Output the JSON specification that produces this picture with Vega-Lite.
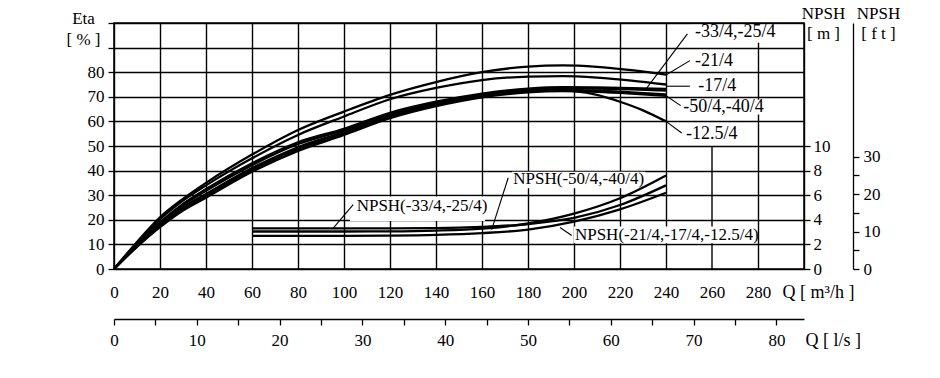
{
  "$schema": "https://vega.github.io/schema/vega-lite/v6.json",
  "width": 690,
  "height": 246,
  "autosize": "none",
  "padding": {"left": 114, "top": 23, "right": 136, "bottom": 109},
  "background": "white",
  "config": {
    "view": {"stroke": "black", "strokeWidth": 1.5},
    "font": "Liberation Serif",
    "text": {"font": "Liberation Serif"},
    "axis": {
      "labelFont": "Liberation Serif", "labelFontSize": 17, "labelColor": "black",
      "titleFont": "Liberation Serif", "titleFontSize": 17, "titleFontWeight": "normal", "titleColor": "black",
      "tickColor": "black", "domainColor": "black", "gridColor": "black", "gridOpacity": 1,
      "gridWidth": 1.4, "tickWidth": 1.3, "domainWidth": 1.3, "labelOverlap": false, "labelFlush": false
    }
  },
  "datasets": {
    "eta": [
      {"c":"-21/4","Q":0,"e":0},{"c":"-21/4","Q":10,"e":11},{"c":"-21/4","Q":20,"e":21},{"c":"-21/4","Q":30,"e":28.5},{"c":"-21/4","Q":40,"e":35},{"c":"-21/4","Q":60,"e":46.5},{"c":"-21/4","Q":80,"e":56.5},{"c":"-21/4","Q":100,"e":64},{"c":"-21/4","Q":120,"e":70.8},{"c":"-21/4","Q":140,"e":76},{"c":"-21/4","Q":160,"e":80},{"c":"-21/4","Q":180,"e":82.3},{"c":"-21/4","Q":195,"e":82.8},{"c":"-21/4","Q":210,"e":82.2},{"c":"-21/4","Q":225,"e":80.8},{"c":"-21/4","Q":240,"e":79},
      {"c":"-17/4","Q":0,"e":0},{"c":"-17/4","Q":10,"e":10.6},{"c":"-17/4","Q":20,"e":20.2},{"c":"-17/4","Q":30,"e":27.8},{"c":"-17/4","Q":40,"e":34},{"c":"-17/4","Q":60,"e":45},{"c":"-17/4","Q":80,"e":54.5},{"c":"-17/4","Q":100,"e":62},{"c":"-17/4","Q":120,"e":69},{"c":"-17/4","Q":140,"e":73.6},{"c":"-17/4","Q":160,"e":76.8},{"c":"-17/4","Q":180,"e":78.2},{"c":"-17/4","Q":195,"e":78.4},{"c":"-17/4","Q":210,"e":77.8},{"c":"-17/4","Q":225,"e":76.6},{"c":"-17/4","Q":240,"e":75},
      {"c":"-33/4","Q":0,"e":0},{"c":"-33/4","Q":10,"e":10},{"c":"-33/4","Q":20,"e":19},{"c":"-33/4","Q":30,"e":26.5},{"c":"-33/4","Q":40,"e":32.5},{"c":"-33/4","Q":60,"e":43},{"c":"-33/4","Q":80,"e":51.5},{"c":"-33/4","Q":100,"e":57},{"c":"-33/4","Q":120,"e":63.5},{"c":"-33/4","Q":140,"e":68},{"c":"-33/4","Q":160,"e":71.3},{"c":"-33/4","Q":180,"e":73.3},{"c":"-33/4","Q":195,"e":73.9},{"c":"-33/4","Q":210,"e":73.8},{"c":"-33/4","Q":225,"e":73.5},{"c":"-33/4","Q":240,"e":73.2},
      {"c":"-25/4","Q":0,"e":0},{"c":"-25/4","Q":10,"e":9.8},{"c":"-25/4","Q":20,"e":18.6},{"c":"-25/4","Q":30,"e":26},{"c":"-25/4","Q":40,"e":31.8},{"c":"-25/4","Q":60,"e":42.2},{"c":"-25/4","Q":80,"e":50.8},{"c":"-25/4","Q":100,"e":56.4},{"c":"-25/4","Q":120,"e":63},{"c":"-25/4","Q":140,"e":67.5},{"c":"-25/4","Q":160,"e":70.9},{"c":"-25/4","Q":180,"e":72.9},{"c":"-25/4","Q":195,"e":73.4},{"c":"-25/4","Q":210,"e":73.3},{"c":"-25/4","Q":225,"e":73},{"c":"-25/4","Q":240,"e":72.5},
      {"c":"-50/4","Q":0,"e":0},{"c":"-50/4","Q":10,"e":9},{"c":"-50/4","Q":20,"e":17},{"c":"-50/4","Q":30,"e":23.8},{"c":"-50/4","Q":40,"e":29},{"c":"-50/4","Q":60,"e":39.5},{"c":"-50/4","Q":80,"e":48},{"c":"-50/4","Q":100,"e":54.5},{"c":"-50/4","Q":120,"e":61.3},{"c":"-50/4","Q":140,"e":66.2},{"c":"-50/4","Q":160,"e":69.8},{"c":"-50/4","Q":180,"e":71.8},{"c":"-50/4","Q":195,"e":72.3},{"c":"-50/4","Q":210,"e":72},{"c":"-50/4","Q":225,"e":71.3},{"c":"-50/4","Q":240,"e":70.4},
      {"c":"-40/4","Q":0,"e":0},{"c":"-40/4","Q":10,"e":9.2},{"c":"-40/4","Q":20,"e":17.4},{"c":"-40/4","Q":30,"e":24.4},{"c":"-40/4","Q":40,"e":29.7},{"c":"-40/4","Q":60,"e":40.3},{"c":"-40/4","Q":80,"e":48.8},{"c":"-40/4","Q":100,"e":55},{"c":"-40/4","Q":120,"e":61.8},{"c":"-40/4","Q":140,"e":66.7},{"c":"-40/4","Q":160,"e":70.3},{"c":"-40/4","Q":180,"e":72.3},{"c":"-40/4","Q":195,"e":72.8},{"c":"-40/4","Q":210,"e":72.5},{"c":"-40/4","Q":225,"e":71.8},{"c":"-40/4","Q":240,"e":71},
      {"c":"-12.5/4","Q":0,"e":0},{"c":"-12.5/4","Q":10,"e":9.5},{"c":"-12.5/4","Q":20,"e":18},{"c":"-12.5/4","Q":30,"e":25.2},{"c":"-12.5/4","Q":40,"e":30.5},{"c":"-12.5/4","Q":60,"e":41},{"c":"-12.5/4","Q":80,"e":49.5},{"c":"-12.5/4","Q":100,"e":55.7},{"c":"-12.5/4","Q":120,"e":62.5},{"c":"-12.5/4","Q":140,"e":67.2},{"c":"-12.5/4","Q":160,"e":70.6},{"c":"-12.5/4","Q":180,"e":72.5},{"c":"-12.5/4","Q":190,"e":72.8},{"c":"-12.5/4","Q":200,"e":72.3},{"c":"-12.5/4","Q":210,"e":70.8},{"c":"-12.5/4","Q":220,"e":68},{"c":"-12.5/4","Q":230,"e":64.5},{"c":"-12.5/4","Q":240,"e":60}
    ],
    "npsh": [
      {"c":"N1","Q":60,"m":3.05},{"c":"N1","Q":80,"m":3.05},{"c":"N1","Q":100,"m":3.05},{"c":"N1","Q":120,"m":3.06},{"c":"N1","Q":140,"m":3.12},{"c":"N1","Q":160,"m":3.28},{"c":"N1","Q":180,"m":3.7},{"c":"N1","Q":200,"m":4.5},{"c":"N1","Q":220,"m":5.75},{"c":"N1","Q":240,"m":7.6},
      {"c":"N2","Q":60,"m":3.3},{"c":"N2","Q":80,"m":3.3},{"c":"N2","Q":100,"m":3.3},{"c":"N2","Q":120,"m":3.3},{"c":"N2","Q":140,"m":3.32},{"c":"N2","Q":160,"m":3.42},{"c":"N2","Q":180,"m":3.65},{"c":"N2","Q":200,"m":4.15},{"c":"N2","Q":220,"m":5.2},{"c":"N2","Q":240,"m":6.8},
      {"c":"N3","Q":60,"m":2.7},{"c":"N3","Q":80,"m":2.7},{"c":"N3","Q":100,"m":2.7},{"c":"N3","Q":120,"m":2.72},{"c":"N3","Q":140,"m":2.78},{"c":"N3","Q":160,"m":2.92},{"c":"N3","Q":180,"m":3.2},{"c":"N3","Q":200,"m":3.85},{"c":"N3","Q":220,"m":4.85},{"c":"N3","Q":240,"m":6.2}
    ],
    "boxes": [
      {"q1":250.5,"q2":298.5,"e1":92,"e2":99.3},
      {"q1":251,"q2":272,"e1":82.3,"e2":87.3},
      {"q1":252.5,"q2":272,"e1":71.7,"e2":76.8},
      {"q1":246.8,"q2":292,"e1":62.8,"e2":68.8},
      {"q1":247.8,"q2":272.5,"e1":52,"e2":57.8},
      {"q1":102.6,"q2":161.3,"e1":19.5,"e2":29.5},
      {"q1":173,"q2":231,"e1":32.8,"e2":39.5},
      {"q1":200,"q2":279,"e1":10.5,"e2":17.3}
    ],
    "leaders": [
      {"q1":249.3,"e1":95.6,"q2":231.6,"e2":73.5},
      {"q1":250.4,"e1":84.7,"q2":240,"e2":78.9},
      {"q1":240,"e1":74.3,"q2":250.4,"e2":74.3},
      {"q1":240,"e1":70.4,"q2":246.4,"e2":66.4},
      {"q1":240,"e1":60,"q2":246.8,"e2":55.3},
      {"q1":104,"e1":26.2,"q2":95.4,"e2":16.7},
      {"q1":171.4,"e1":37.1,"q2":164.2,"e2":16},
      {"q1":193.9,"e1":16.9,"q2":199,"e2":13.6}
    ],
    "labels": [
      {"t":"-33/4,-25/4","Q":252.6,"e":96.4,"s":18},
      {"t":"-21/4","Q":252.6,"e":84.7,"s":18},
      {"t":"-17/4","Q":254,"e":74.3,"s":18},
      {"t":"-50/4,-40/4","Q":247.5,"e":65.7,"s":18},
      {"t":"-12.5/4","Q":248.7,"e":54.8,"s":18},
      {"t":"NPSH(-33/4,-25/4)","Q":105.5,"e":25.6,"s":17},
      {"t":"NPSH(-50/4,-40/4)","Q":173.6,"e":36.4,"s":17},
      {"t":"NPSH(-21/4,-17/4,-12.5/4)","Q":200.4,"e":14,"s":17}
    ],
    "grid260": [{"Q":260,"lo":0,"hi":50}]
  },
  "layer": [
    {
      "data": {"name": "grid260"},
      "mark": {"type": "rule", "color": "black", "strokeWidth": 1.4},
      "encoding": {
        "x": {"field": "Q", "type": "quantitative", "scale": {"domain": [0, 300], "nice": false}, "axis": null},
        "y": {"field": "lo", "type": "quantitative", "scale": {"domain": [0, 100], "nice": false}, "axis": null},
        "y2": {"field": "hi"}
      }
    },
    {
      "data": {"name": "boxes"},
      "mark": {"type": "rect", "fill": "white", "strokeWidth": 0},
      "encoding": {
        "x": {"field": "q1", "type": "quantitative", "scale": {"domain": [0, 300], "nice": false},
              "axis": {"orient": "bottom", "values": [0,20,40,60,80,100,120,140,160,180,200,220,240,280,300], "grid": true, "labels": false, "ticks": false, "domain": false, "title": null}},
        "x2": {"field": "q2"},
        "y": {"field": "e1", "type": "quantitative", "scale": {"domain": [0, 100], "nice": false}, "axis": null},
        "y2": {"field": "e2"}
      }
    },
    {
      "data": {"name": "eta"},
      "mark": {"type": "line", "color": "black", "strokeWidth": 2.3, "interpolate": "monotone"},
      "encoding": {
        "x": {"field": "Q", "type": "quantitative", "scale": {"domain": [0, 300], "nice": false},
              "axis": {"orient": "bottom", "values": [0,20,40,60,80,100,120,140,160,180,200,220,240,260,280], "grid": false, "ticks": false, "tickSize": 0, "domain": false, "labelBaseline": "middle", "labelPadding": 23,
                       "labelFont": "Liberation Serif", "labelFontSize": 17, "titleFont": "Liberation Serif", "titleFontSize": 18,
                       "title": "Q [ m³/h ]", "titleX": 668, "titleY": 23, "titleAlign": "left", "titleBaseline": "middle", "titleAngle": 0}},
        "y": {"field": "e", "type": "quantitative", "scale": {"domain": [0, 100], "nice": false},
              "axis": {"orient": "left", "values": [0,10,20,30,40,50,60,70,80,90,100], "grid": true, "tickSize": 6, "domain": false, "labelPadding": 4,
                       "labelFont": "Liberation Serif", "labelFontSize": 17, "titleFont": "Liberation Serif", "titleFontSize": 17,
                       "labelExpr": "datum.value <= 80 ? datum.label : ''",
                       "title": ["Eta", "[ % ]"], "titleAngle": 0, "titleX": -31, "titleY": -5, "titleAlign": "center", "titleBaseline": "middle", "titleLineHeight": 21}},
        "detail": {"field": "c"}
      }
    },
    {
      "data": {"name": "npsh"},
      "mark": {"type": "line", "color": "black", "strokeWidth": 2.3, "interpolate": "monotone"},
      "encoding": {
        "x": {"field": "Q", "type": "quantitative", "scale": {"domain": [0, 300], "nice": false}, "axis": null},
        "y": {"field": "m", "type": "quantitative", "scale": {"domain": [0, 20], "nice": false},
              "axis": {"orient": "right", "values": [0,2,4,6,8,10], "grid": false, "tickSize": 6, "domain": false, "labelPadding": 3,
                       "labelFont": "Liberation Serif", "labelFontSize": 17, "titleFont": "Liberation Serif", "titleFontSize": 17,
                       "title": ["NPSH", "[ m ]"], "titleAngle": 0, "titleX": 19, "titleY": -9.7, "titleAlign": "center", "titleBaseline": "middle", "titleLineHeight": 20}},
        "detail": {"field": "c"}
      }
    },
    {
      "data": {"name": "leaders"},
      "mark": {"type": "rule", "color": "black", "strokeWidth": 1.1},
      "encoding": {
        "x": {"field": "q1", "type": "quantitative", "scale": {"domain": [0, 300], "nice": false}, "axis": null},
        "x2": {"field": "q2"},
        "y": {"field": "e1", "type": "quantitative", "scale": {"domain": [0, 100], "nice": false}, "axis": null},
        "y2": {"field": "e2"}
      }
    },
    {
      "data": {"name": "labels"},
      "mark": {"type": "text", "align": "left", "baseline": "middle", "font": "Liberation Serif", "color": "black"},
      "encoding": {
        "x": {"field": "Q", "type": "quantitative", "scale": {"domain": [0, 300], "nice": false}, "axis": null},
        "y": {"field": "e", "type": "quantitative", "scale": {"domain": [0, 100], "nice": false}, "axis": null},
        "text": {"field": "t"},
        "size": {"field": "s", "type": "quantitative", "scale": null}
      }
    },
    {
      "data": {"values": [{"ft": 0}]},
      "mark": {"type": "point", "opacity": 0},
      "encoding": {
        "y": {"field": "ft", "type": "quantitative", "scale": {"domain": [0, 65.6168], "nice": false},
              "axis": {"orient": "right", "offset": 49, "values": [0,5,10,15,20,25,30], "grid": false, "tickSize": 6, "domain": true, "labelPadding": 4,
                       "labelFont": "Liberation Serif", "labelFontSize": 17, "titleFont": "Liberation Serif", "titleFontSize": 17,
                       "labelExpr": "datum.value % 10 === 0 ? datum.label : ''",
                       "title": ["NPSH", "[ f t ]"], "titleAngle": 0, "titleX": 25, "titleY": -9.7, "titleAlign": "center", "titleBaseline": "middle", "titleLineHeight": 20}}
      }
    },
    {
      "data": {"values": [{"ls": 0}]},
      "mark": {"type": "point", "opacity": 0},
      "encoding": {
        "x": {"field": "ls", "type": "quantitative", "scale": {"domain": [0, 83.3333], "nice": false},
              "axis": {"orient": "bottom", "offset": 50, "values": [0,5,10,15,20,25,30,35,40,45,50,55,60,65,70,75,80], "grid": false, "tickSize": 6, "domain": true,
                       "labelBaseline": "middle", "labelPadding": 15,
                       "labelFont": "Liberation Serif", "labelFontSize": 17, "titleFont": "Liberation Serif", "titleFontSize": 18,
                       "labelExpr": "datum.value % 10 === 0 ? datum.label : ''",
                       "title": "Q [ l/s ]", "titleX": 691, "titleY": 21, "titleAlign": "left", "titleBaseline": "middle", "titleAngle": 0}}
      }
    }
  ],
  "resolve": {"scale": {"x": "independent", "y": "independent"}}
}
